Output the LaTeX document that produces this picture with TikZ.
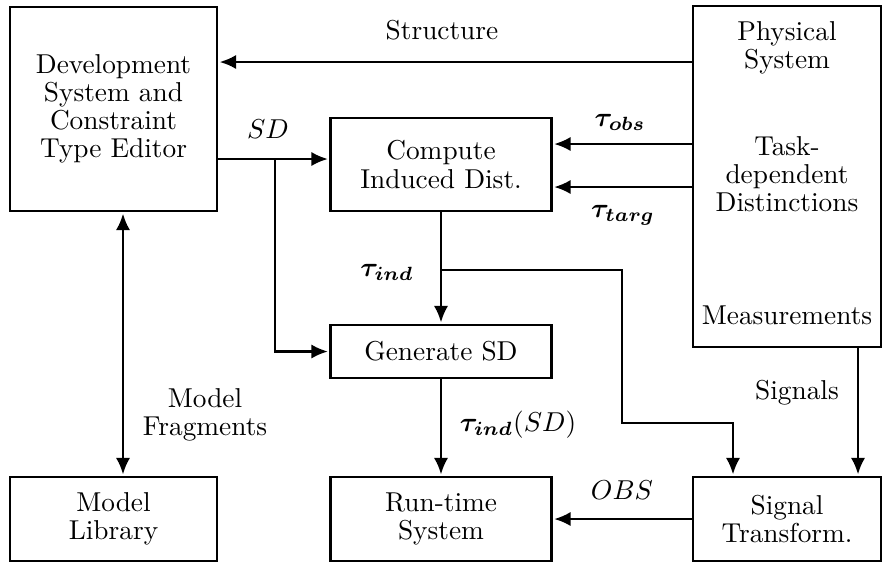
\documentclass[tikz,border=0pt]{standalone}
\usepackage{amsmath,bm}
\usetikzlibrary{arrows.meta}
\def\px{0.366pt}
\tikzset{
  tip/.tip={Latex[length=6pt,width=5.2pt]},
  box/.style={draw, line width=0.8pt, inner sep=0pt, align=center},
  lbl/.style={inner sep=0pt, align=center},
  arr/.style={line width=0.8pt, -tip, shorten >=0.6pt},
  dbl/.style={line width=0.8pt, tip-tip, shorten >=0.6pt, shorten <=0.6pt}
}
\begin{document}
\begin{tikzpicture}[x=\px, y=-\px, font=\fontsize{10}{10.3}\selectfont]
\useasboundingbox (0,0) rectangle (888,563);

% boxes
\node[box, minimum width={207*\px}, minimum height={204*\px}] (dev) at (113.5,109)
  {Development\\System and\\Constraint\\Type Editor};
\node[box, minimum width={188*\px}, minimum height={341*\px}] (phys) at (787,176.5) {};
\node[lbl] (physname) at (787,48) {Physical\\System};
\node[lbl] (physdist) at (787,174) {Task-\\dependent\\Distinctions};
\node[lbl] (physmeas) at (787,315) {Measurements};
\node[box, minimum width={221*\px}, minimum height={93*\px}] (comp) at (441,164.5)
  {Compute\\Induced Dist.};
\node[box, minimum width={221*\px}, minimum height={53*\px}] (gen) at (441,351.5)
  {Generate SD};
\node[box, minimum width={221*\px}, minimum height={84*\px}] (run) at (441,519)
  {Run-time\\System};
\node[box, minimum width={207*\px}, minimum height={84*\px}] (lib) at (113.5,519)
  {Model\\Library};
\node[box, minimum width={188*\px}, minimum height={84*\px}] (sig) at (787,519)
  {Signal\\Transform.};

% helper coordinates for connector rows and columns
\coordinate (ystruct) at (0,62);
\coordinate (ysd) at (0,159);
\coordinate (yobs) at (0,144);
\coordinate (ytarg) at (0,187);
\coordinate (sdj) at (275,159);
\coordinate (tj) at (441,270);
\coordinate (b1) at (622,270);
\coordinate (b2) at (622,423);
\coordinate (b3) at (733,423);
\coordinate (xsig) at (858,0);
\coordinate (xlib) at (123,0);

% connectors
\draw[arr] (phys.west |- ystruct) -- (dev.east |- ystruct);
\draw[arr] (dev.east |- ysd) -- (comp.west |- ysd);
\draw[arr] (sdj) |- (gen.west);
\draw[arr] (phys.west |- yobs) -- (comp.east |- yobs);
\draw[arr] (phys.west |- ytarg) -- (comp.east |- ytarg);
\draw[arr] (comp.south) -- (gen.north);
\draw[arr] (tj) -- (b1) -- (b2) -- (b3) -- (b3 |- sig.north);
\draw[arr] (phys.south -| xsig) -- (sig.north -| xsig);
\draw[arr] (gen.south) -- (run.north);
\draw[arr] (sig.west) -- (run.east);
\draw[dbl] (dev.south -| xlib) -- (lib.north -| xlib);

% labels
\node[lbl] (lstruct) at (442,30) {Structure};
\node[lbl] (lsd) at (268,129) {$SD$};
\node[lbl] (lobs) at (620,122) {$\bm{\tau_{obs}}$};
\node[lbl] (ltarg) at (623,215) {$\bm{\tau_{targ}}$};
\node[lbl] (lind) at (387,272) {$\bm{\tau_{ind}}$};
\node[lbl] (lindsd) at (518,425) {$\bm{\tau_{ind}}(SD)$};
\node[lbl] (lfrag) at (205,415) {Model\\Fragments};
\node[lbl] (lsignals) at (797,393) {Signals};
\node[lbl] (lobsv) at (622,490) {$OBS$};
\end{tikzpicture}
\end{document}
